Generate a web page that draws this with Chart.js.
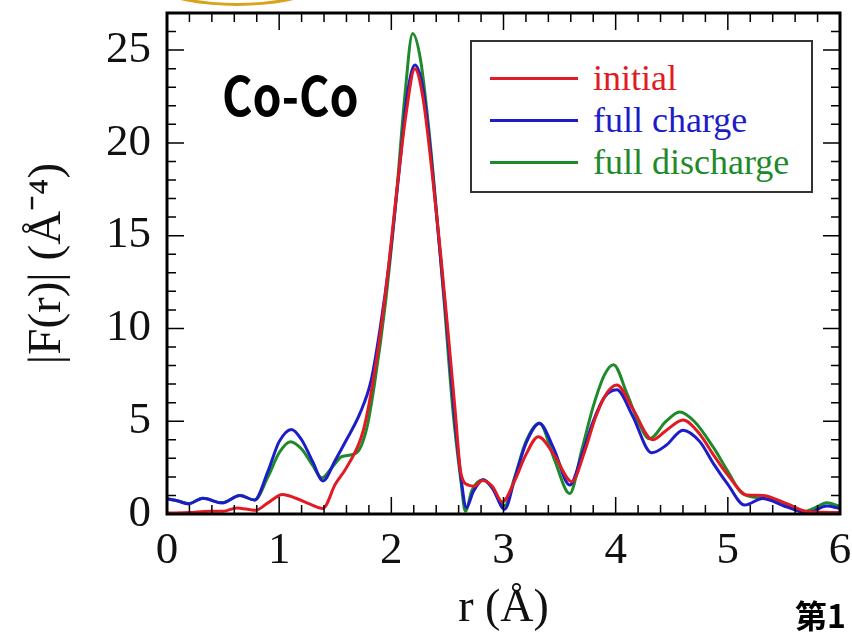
<!DOCTYPE html>
<html>
<head>
<meta charset="utf-8">
<script src="https://cdn.jsdelivr.net/npm/chart.js@4.4.1/dist/chart.umd.min.js"></script>
<style>
  body { margin: 0; background: #fff; }
  #wrap { position: relative; width: 852px; height: 635px; overflow: hidden; }
  #arc { position: absolute; left: 107px; top: -114px; width: 260px; height: 120px;
         border: 3px solid #d9a21b; border-radius: 50%; box-sizing: border-box; }
  #legend { position: absolute; left: 470px; top: 40px; width: 343px; height: 153px;
            border: 2px solid #333; box-sizing: border-box; background: #fff;
            font-family: "Liberation Serif", serif; font-size: 36px; }
  .row { position: absolute; left: 18px; height: 40px; display: flex; align-items: center; }
  .row span.ln { display: inline-block; width: 88px; height: 3px; margin-right: 15px; }
  #title { position: absolute; left: 222px; top: 66px; font-family: "Noto Sans CJK JP", sans-serif;
           font-weight: 700; font-size: 48px; color: #000; line-height: 1;
           transform: scale(0.97, 1.12); transform-origin: left top; }
  #note { position: absolute; left: 795px; top: 598px; font-family: "Noto Sans CJK JP", sans-serif;
          font-weight: 700; font-size: 32px; color: #000; line-height: 1; }
</style>
</head>
<body>
<div id="wrap">
  <canvas id="chart"></canvas>
  <div id="arc"></div>
  <div id="title">Co-Co</div>
  <div id="legend"></div>
  <div id="note">第1</div>
</div>
<script>
// r (Å) と |F(r)| の読み取り値
const rInitial = [0, 0.2, 0.38, 0.5, 0.62, 0.79, 0.9, 1.03, 1.15, 1.27, 1.39, 1.5, 1.6, 1.75, 1.86, 1.95, 2.05, 2.13, 2.21, 2.28, 2.36, 2.44, 2.51, 2.57, 2.62, 2.69, 2.74, 2.81, 2.9, 2.99, 3.1, 3.2, 3.31, 3.45, 3.61, 3.72, 3.82, 3.92, 4.01, 4.15, 4.33, 4.45, 4.6, 4.75, 4.87, 5.0, 5.17, 5.31, 5.52, 5.72, 5.85, 6.0];
const fInitial = [0.05, 0.08, 0.15, 0.15, 0.33, 0.2, 0.6, 1.05, 0.85, 0.55, 0.3, 1.6, 2.5, 4.5, 8.0, 12, 17.5, 21.5, 24, 22.5, 18.6, 14, 9.5, 5.5, 2.2, 1.55, 1.5, 1.8, 1.5, 0.65, 1.8, 3.2, 4.16, 3.2, 1.74, 3.3, 5.2, 6.5, 6.95, 5.7, 4.0, 4.5, 5.06, 4.3, 3.2, 2.1, 1.02, 1.0, 0.57, 0.12, 0.1, 0.08];

const rCharge = [0, 0.1, 0.19, 0.32, 0.49, 0.65, 0.78, 0.9, 1.0, 1.11, 1.2, 1.3, 1.39, 1.5, 1.6, 1.72, 1.82, 1.9, 1.98, 2.07, 2.14, 2.21, 2.28, 2.35, 2.42, 2.49, 2.56, 2.62, 2.67, 2.73, 2.82, 2.9, 3.01, 3.1, 3.2, 3.32, 3.45, 3.59, 3.7, 3.8, 3.9, 4.01, 4.15, 4.32, 4.45, 4.6, 4.75, 4.87, 5.0, 5.15, 5.31, 5.52, 5.72, 5.88, 6.0];
const fCharge = [0.82, 0.7, 0.55, 0.85, 0.6, 1.0, 0.75, 2.3, 3.9, 4.56, 4.0, 2.8, 1.78, 2.9, 4.0, 5.42, 7.2, 10, 13.5, 18.5, 22.5, 24.2, 23, 19.5, 15, 10.5, 5.5, 2.0, 0.35, 1.2, 1.85, 1.4, 0.25, 1.9, 3.8, 4.88, 3.5, 1.56, 3.2, 5.0, 6.3, 6.7, 5.3, 3.3, 3.7, 4.52, 3.9, 2.73, 1.6, 0.48, 0.84, 0.39, 0.07, 0.43, 0.3];

const rDischarge = [0, 0.1, 0.19, 0.32, 0.49, 0.65, 0.78, 0.9, 1.0, 1.1, 1.2, 1.3, 1.38, 1.47, 1.56, 1.69, 1.78, 1.85, 1.95, 2.05, 2.12, 2.19, 2.26, 2.33, 2.4, 2.47, 2.55, 2.62, 2.66, 2.72, 2.82, 2.9, 3.01, 3.1, 3.2, 3.32, 3.45, 3.59, 3.7, 3.8, 3.9, 3.98, 4.1, 4.2, 4.3, 4.45, 4.57, 4.7, 4.87, 5.0, 5.13, 5.31, 5.47, 5.67, 5.8, 5.88, 6.0];
const fDischarge = [0.82, 0.7, 0.55, 0.85, 0.6, 1.0, 0.75, 2.0, 3.3, 3.9, 3.5, 2.6, 1.95, 2.5, 3.1, 3.3, 4.6, 7.0, 11.5, 17.5, 22.5, 25.9, 24.5, 21, 16.5, 11.5, 5.5, 1.8, 0.15, 1.3, 1.85, 1.4, 0.45, 2.0, 3.9, 4.9, 3.0, 1.1, 3.5, 5.8, 7.5, 8.05, 6.5, 5.0, 4.05, 5.0, 5.5, 5.0, 3.6, 2.3, 1.1, 0.85, 0.65, 0.12, 0.4, 0.61, 0.4];

const seriesNames = ['initial', 'full charge', 'full discharge'];
const seriesColors = ['#e01b24', '#1c1cc8', '#1e8a2a'];
const xTicks = [0, 1, 2, 3, 4, 5, 6];
const yTicks = [0, 5, 10, 15, 20, 25];

// 凡例 (HTML)
const legendBox = document.getElementById('legend');
seriesNames.forEach((name, i) => {
    const row = document.createElement('div');
    row.className = 'row';
    row.style.top = (16 + i * 42) + 'px';
    row.innerHTML = '<span class="ln" style="background:' + seriesColors[i] + '"></span>' +
        '<span style="color:' + seriesColors[i] + '">' + name + '</span>';
    legendBox.appendChild(row);
});

function toPoints(rs, fs) {
    return rs.map((r, i) => ({ x: r, y: fs[i] }));
}

// 枠と内向きの目盛り
const framePlugin = {
    id: 'frame',
    afterDatasetsDraw(chart) {
        const { ctx, chartArea: a, scales } = chart;
        const xs = scales.x, ys = scales.y;
        ctx.save();
        ctx.strokeStyle = '#000';
        ctx.lineWidth = 1.5;
        for (let v = 0; v <= 6.001; v += 0.2) {
            const px = xs.getPixelForValue(v);
            const len = Math.abs(v - Math.round(v)) < 0.01 ? 17 : 9;
            ctx.beginPath();
            ctx.moveTo(px, a.bottom); ctx.lineTo(px, a.bottom - len);
            ctx.moveTo(px, a.top); ctx.lineTo(px, a.top + len);
            ctx.stroke();
        }
        for (let v = 0; v <= 27; v += 1) {
            const py = ys.getPixelForValue(v);
            const len = v % 5 === 0 ? 17 : 9;
            ctx.beginPath();
            ctx.moveTo(a.left, py); ctx.lineTo(a.left + len, py);
            ctx.moveTo(a.right, py); ctx.lineTo(a.right - len, py);
            ctx.stroke();
        }
        ctx.lineWidth = 3;
        ctx.strokeRect(a.left, a.top, a.right - a.left, a.bottom - a.top);
        ctx.restore();
    }
};

const ds = [toPoints(rInitial, fInitial), toPoints(rCharge, fCharge), toPoints(rDischarge, fDischarge)];

new Chart(document.getElementById('chart'), {
    type: 'line',
    data: {
        datasets: ds.map((d, i) => ({
            label: seriesNames[i],
            data: d,
            borderColor: seriesColors[i],
            borderWidth: 3,
            pointRadius: 0,
            fill: false,
            cubicInterpolationMode: 'monotone'
        }))
    },
    options: {
        responsive: true,
        maintainAspectRatio: false,
        animation: false,
        layout: { padding: { top: 13, right: 12, left: 0, bottom: 0 } },
        plugins: { legend: { display: false }, tooltip: { enabled: false } },
        scales: {
            x: {
                type: 'linear', min: 0, max: 6,
                afterFit(s) { s.height = 121; s.paddingLeft = 0; s.paddingRight = 0; },
                afterBuildTicks(s) { s.ticks = xTicks.map(v => ({ value: v })); },
                grid: { display: false, drawTicks: false },
                border: { display: false },
                ticks: { padding: 10, color: '#111', font: { family: 'Liberation Serif', size: 45 }, maxRotation: 0 },
                title: { display: true, text: 'r (Å)', color: '#111',
                         font: { family: 'Liberation Serif', size: 46, lineHeight: 1 }, padding: { bottom: 3 } }
            },
            y: {
                type: 'linear', min: 0, max: 27,
                afterFit(s) { s.width = 167; s.paddingTop = 0; s.paddingBottom = 0; },
                afterBuildTicks(s) { s.ticks = yTicks.map(v => ({ value: v })); },
                grid: { display: false, drawTicks: false },
                border: { display: false },
                ticks: { padding: 16, color: '#111', font: { family: 'Liberation Serif', size: 45 } },
                title: { display: true, text: '|F(r)| (Å⁻⁴)', color: '#111',
                         font: { family: 'Liberation Serif', size: 47, lineHeight: 1 }, padding: { top: 24 } }
            }
        }
    },
    plugins: [framePlugin]
});
</script>
</body>
</html>
